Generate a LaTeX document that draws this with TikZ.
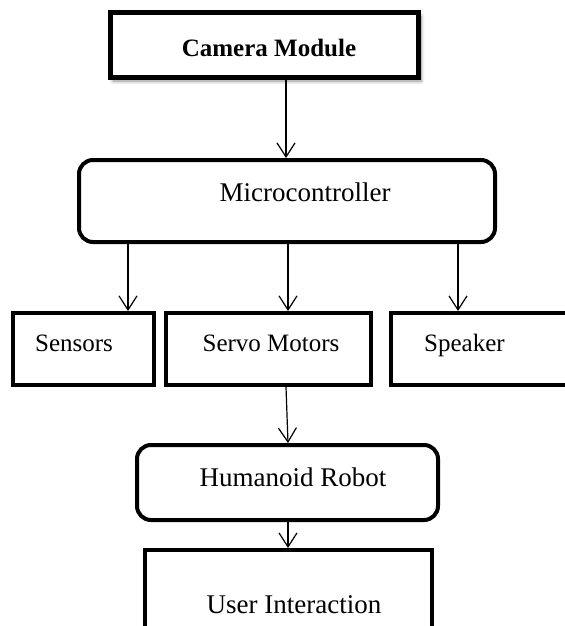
\documentclass[tikz,border=0pt]{standalone}
\usepackage{fontspec}
\setmainfont{Liberation Serif}
\usetikzlibrary{arrows.meta,shadows.blur}
\begin{document}
\begin{tikzpicture}[x=0.5pt,y=-0.5pt,
  box/.style={draw=black,line width=2pt,fill=white,inner sep=0pt},
  rbox/.style={box,rounded corners=7pt},
  txt/.style={inner sep=0pt,anchor=base,font=\fontsize{12.5}{14}\selectfont},
  btxt/.style={txt,font=\fontsize{13.5}{15}\selectfont},
  arr/.style={draw=black,line width=0.6pt,-{Straight Barb[length=7pt,width=9pt,line width=0.6pt]}}]
\useasboundingbox (0,0) rectangle (564,626);
% boxes
\node[box,line width=2.5pt,minimum width=154pt,minimum height=32.5pt,
  blur shadow={shadow blur steps=6,shadow xshift=1.5pt,shadow yshift=-1.5pt,shadow opacity=45}] (cam) at (264,45.5) {};
\node[rbox,minimum width=208pt,minimum height=41pt] (mc) at (287,201) {};
\node[box,minimum width=70.5pt,minimum height=36pt] (sen) at (83.5,349) {};
\node[box,minimum width=102.5pt,minimum height=36pt] (servo) at (268.5,349) {};
\node[box,minimum width=100pt,minimum height=36pt] (spk) at (491,349) {};
\node[rbox,rounded corners=7pt,minimum width=150.5pt,minimum height=37.5pt] (hr) at (287.5,482.5) {};
\node[box,minimum width=143.5pt,minimum height=50pt] (ui) at (288.5,600) {};
% texts
\node[txt,font=\fontsize{12.5}{14}\selectfont\bfseries] (camt) at (269,56.5) {Camera Module};
\node[btxt] (mct) at (305,201.5) {Microcontroller};
\node[txt] (sent) at (74,351.5) {Sensors};
\node[txt] (servot) at (271,351.5) {Servo Motors};
\node[txt] (spkt) at (464.5,351.5) {Speaker};
\node[btxt] (hrt) at (293,486.5) {Humanoid Robot};
\node[btxt] (uit) at (294,613) {User Interaction};
% connectors
\draw[arr] (cam.south -| 286,0) -- (mc.north -| 286,0);
\draw[arr] (mc.south -| 128,0) -- (sen.north -| 128,0);
\draw[arr] (mc.south -| 288,0) -- (servo.north -| 288,0);
\draw[arr] (mc.south -| 458,0) -- (spk.north -| 458,0);
\draw[arr] (servo.south -| 286,0) -- (hr.north -| 288,0);
\draw[arr] (hr.south -| 288,0) -- (ui.north -| 288,0);
\end{tikzpicture}
\end{document}
